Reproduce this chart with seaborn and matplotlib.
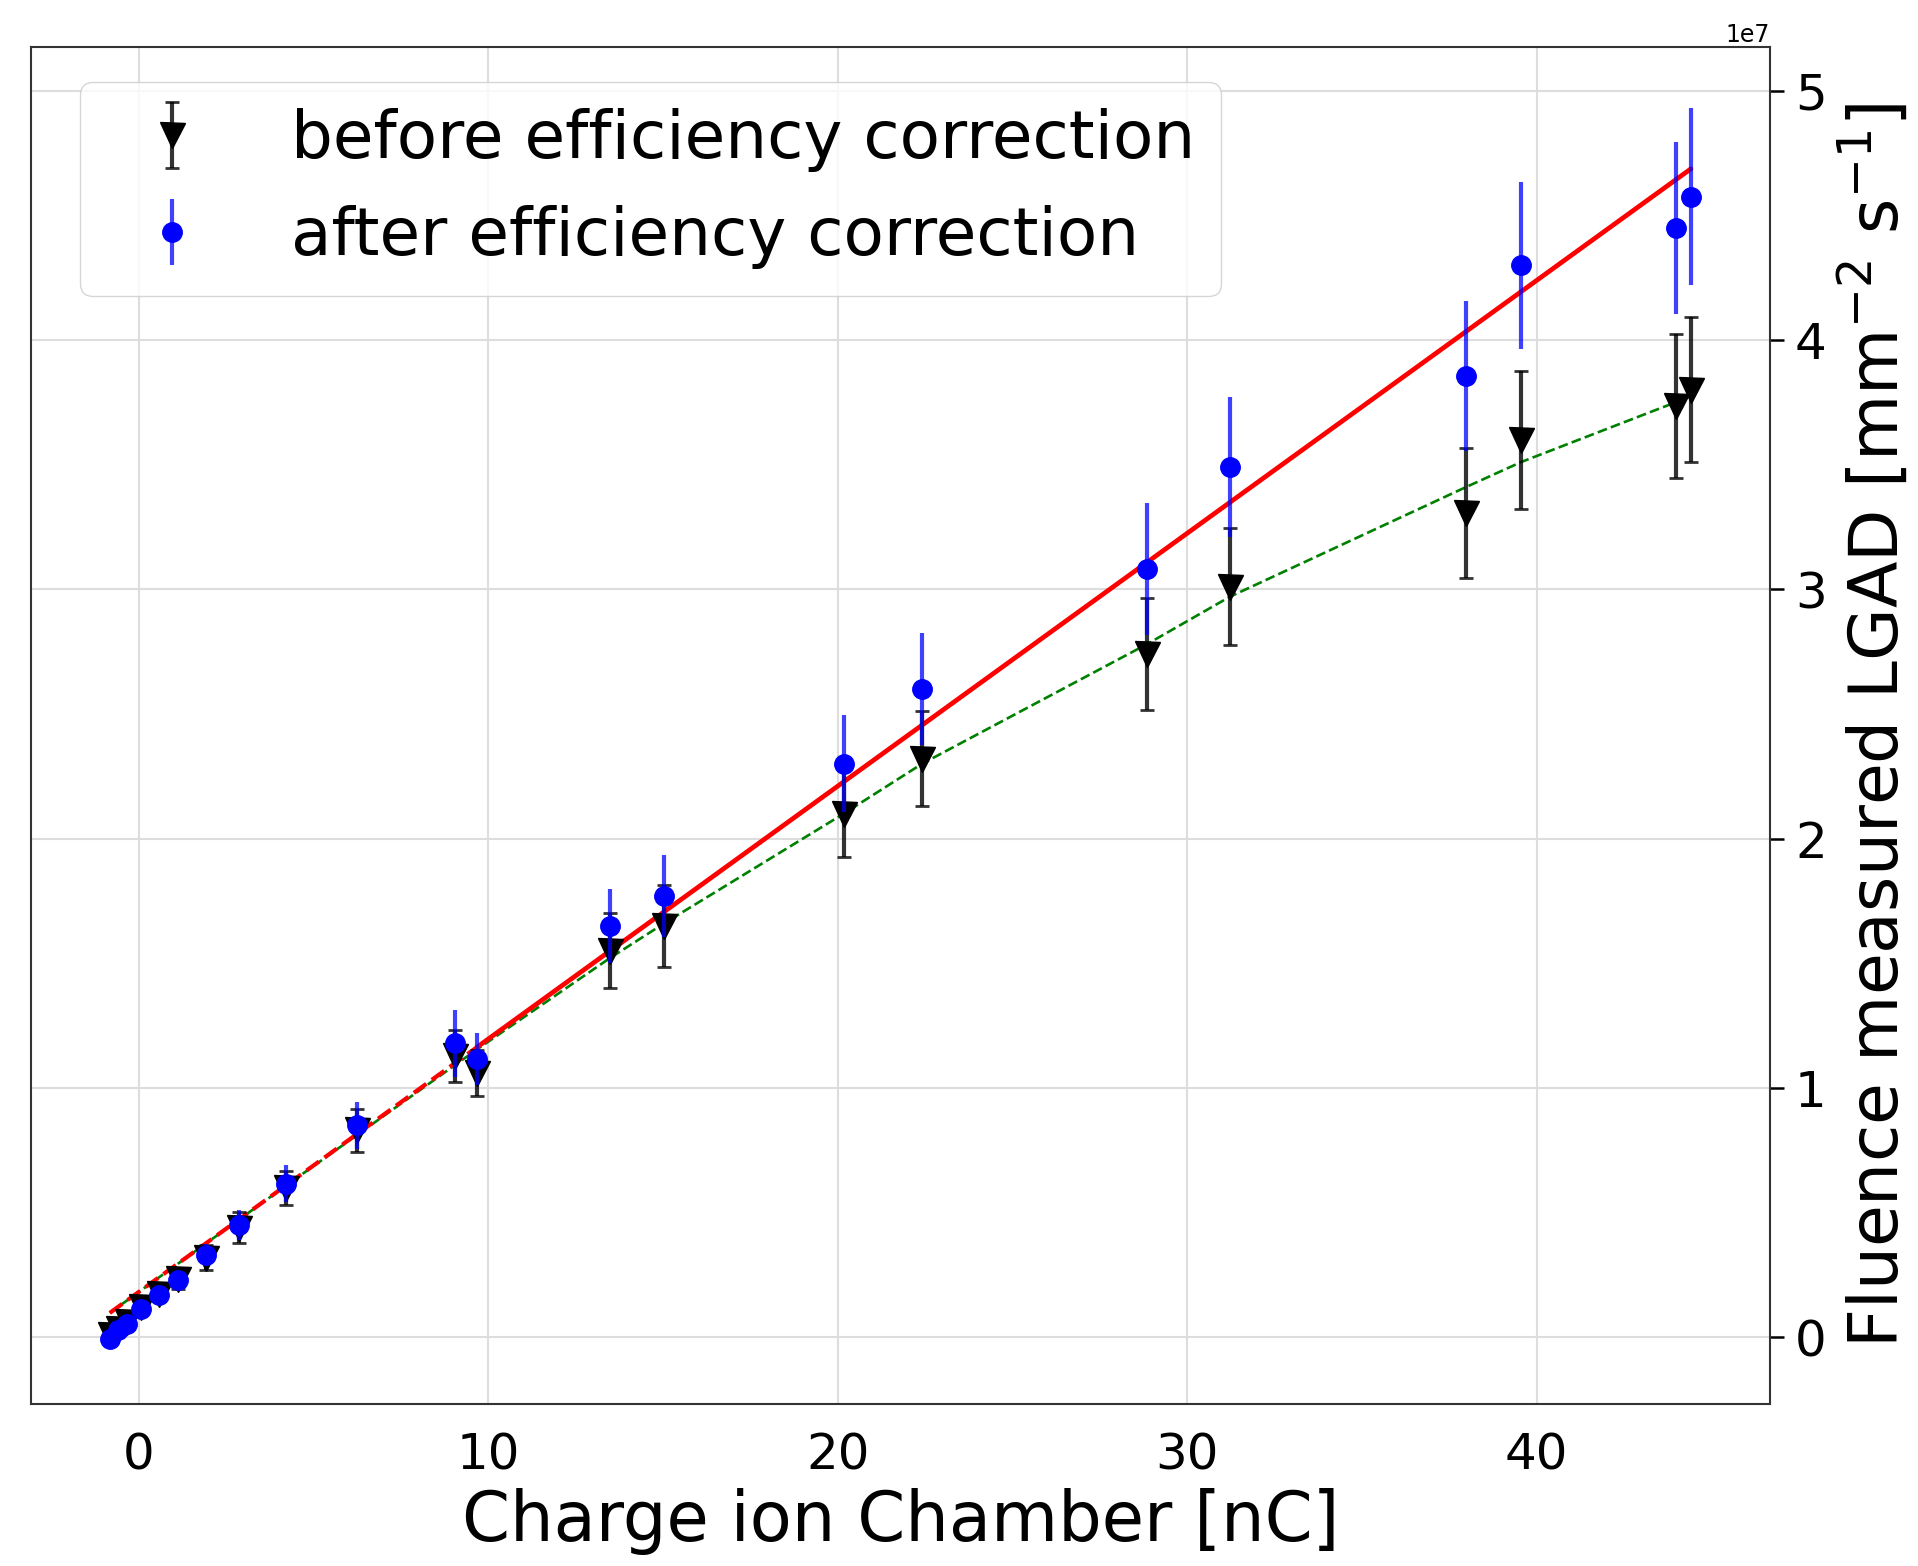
import matplotlib
matplotlib.use("Agg")
import matplotlib.pyplot as plt
import seaborn as sns
import numpy as np

# ---- data (values in units of 1e7 mm^-2 s^-1) ----
charge = [-0.83, -0.60, -0.33, 0.05, 0.58, 1.12, 1.91, 2.86, 4.20, 6.25, 9.06, 9.68,
          13.47, 15.03, 20.17, 22.41, 28.85, 31.22, 37.98, 39.55, 43.98, 44.41]
before = [0.010, 0.035, 0.060, 0.120, 0.175, 0.235, 0.320, 0.440, 0.600, 0.830, 1.130, 1.060,
          1.550, 1.650, 2.100, 2.320, 2.740, 3.010, 3.305, 3.600, 3.735, 3.800]
before_err = [0.010, 0.010, 0.015, 0.020, 0.030, 0.040, 0.050, 0.062, 0.068, 0.087, 0.104, 0.094,
              0.150, 0.165, 0.175, 0.190, 0.225, 0.235, 0.260, 0.277, 0.290, 0.290]
after = [-0.005, 0.030, 0.055, 0.115, 0.170, 0.230, 0.330, 0.450, 0.617, 0.851, 1.179, 1.115,
         1.650, 1.770, 2.300, 2.600, 3.080, 3.490, 3.855, 4.300, 4.450, 4.574]
after_err = [0.015, 0.010, 0.015, 0.020, 0.025, 0.035, 0.045, 0.060, 0.073, 0.094, 0.134, 0.104,
             0.150, 0.165, 0.195, 0.225, 0.265, 0.280, 0.300, 0.335, 0.345, 0.355]

# linear fit (after correction): dashed part and solid part
fit_dash_x = [-0.83, 9.68]
fit_dash_y = [0.098, 1.164]
fit_solid_x = [9.68, 44.41]
fit_solid_y = [1.164, 4.686]

# saturating fit (before correction)
sat_x = [-0.83, 4.20, 9.68, 13.47, 15.03, 20.17, 22.41, 28.85, 31.22, 37.98, 39.55, 43.98]
sat_y = [0.098, 0.607, 1.155, 1.520, 1.660, 2.100, 2.300, 2.780, 2.970, 3.410, 3.510, 3.750]

label_before = "before efficiency correction"
label_after = "after efficiency correction"
xlabel = "Charge ion Chamber [nC]"
ylabel = r"Fluence measured LGAD [mm$^{-2}$ s$^{-1}$]"

SCALE = 1e7

sns.set_style("white")
plt.rcParams['font.family'] = ['DejaVu Sans']
plt.rcParams['text.color'] = 'black'
plt.rcParams['axes.labelcolor'] = 'black'
plt.rcParams['xtick.color'] = 'black'
plt.rcParams['ytick.color'] = 'black'

fig = plt.figure(figsize=(19.18, 15.66), dpi=100)
ax = fig.add_axes([0.016, 0.1034, 0.9068, 0.8669])

# fit lines
sns.lineplot(x=sat_x, y=np.array(sat_y) * SCALE, ax=ax, color="green", linewidth=1.9,
             linestyle="--", sort=False, estimator=None, zorder=2)
sns.lineplot(x=fit_dash_x, y=np.array(fit_dash_y) * SCALE, ax=ax, color="red", linewidth=3.0,
             linestyle="--", sort=False, estimator=None, zorder=3)
sns.lineplot(x=fit_solid_x, y=np.array(fit_solid_y) * SCALE, ax=ax, color="red", linewidth=3.4,
             linestyle="-", sort=False, estimator=None, zorder=3)

# data with error bars
ax.errorbar(charge, np.array(before) * SCALE, yerr=np.array(before_err) * SCALE,
            fmt="v", color="black", ms=18, ecolor=(0, 0, 0, 0.8), elinewidth=3,
            capsize=5, capthick=2, label=label_before, zorder=4)
ax.errorbar(charge, np.array(after) * SCALE, yerr=np.array(after_err) * SCALE,
            fmt="o", color="blue", ms=14, ecolor=(0, 0, 1, 0.75), elinewidth=3,
            capsize=0, label=label_after, zorder=5)

ax.yaxis.tick_right()
ax.yaxis.set_label_position("right")
ax.set_xticks([0, 10, 20, 30, 40])
ax.tick_params(axis="both", labelsize=36, length=10, width=1.8, direction="out",
               colors="black")
ax.tick_params(axis="x", pad=10)
ax.tick_params(axis="y", pad=8)
ax.yaxis.get_offset_text().set_fontsize(17)
ax.yaxis.get_offset_text().set_color("black")

ax.grid(True, color="#dddddd", linewidth=1.5)
ax.set_axisbelow(True)
for s in ax.spines.values():
    s.set_color("#333333")
    s.set_linewidth(1.5)

ax.set_xlabel(xlabel, fontsize=49.5, labelpad=6, color="black")
ax.set_ylabel(ylabel, fontsize=49, labelpad=8, color="black")

leg = ax.legend(loc="upper left", bbox_to_anchor=(0.0281, 0.9739), borderaxespad=0,
                fontsize=47.5, frameon=True, fancybox=True, edgecolor="0.8", framealpha=0.8)
for t in leg.get_texts():
    t.set_color("black")

fig.savefig("out.png", dpi=100)
